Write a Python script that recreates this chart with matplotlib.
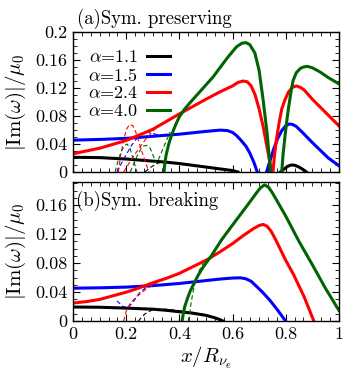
import matplotlib
matplotlib.use("Agg")
import matplotlib.pyplot as plt
from matplotlib.ticker import MultipleLocator

# ─────────────────────────────────────────────
# Data
# ─────────────────────────────────────────────
alphas = ["1.1", "1.5", "2.4", "4.0"]
colors = ["black", "#0000ff", "#ff0000", "#006400"]

# (a) symmetry preserving -- solid branches
a_black_x1 = [0, 0.1, 0.2, 0.25, 0.3, 0.35, 0.4, 0.45, 0.5, 0.55, 0.6, 0.62]
a_black_y1 = [0.021, 0.0205, 0.0185, 0.017, 0.0155, 0.014, 0.012, 0.0095, 0.007, 0.0045, 0.002, 0]
a_black_x2 = [0.78, 0.79, 0.80, 0.81, 0.822, 0.835, 0.85, 0.865, 0.878]
a_black_y2 = [0, 0.003, 0.006, 0.0085, 0.010, 0.0095, 0.007, 0.0035, 0]
a_blue_x1 = [0, 0.1, 0.2, 0.3, 0.4, 0.45, 0.5, 0.553, 0.58, 0.6, 0.615, 0.63, 0.65, 0.665, 0.68, 0.693]
a_blue_y1 = [0.0455, 0.0465, 0.048, 0.051, 0.054, 0.056, 0.058, 0.0598, 0.0592, 0.0565, 0.052, 0.046, 0.037, 0.027, 0.014, 0]
a_blue_x2 = [0.728, 0.74, 0.755, 0.77, 0.785, 0.8, 0.813, 0.825, 0.84, 0.865, 0.9, 0.93, 0.96, 1.0]
a_blue_y2 = [0, 0.015, 0.033, 0.048, 0.059, 0.066, 0.0686, 0.068, 0.065, 0.0557, 0.042, 0.031, 0.02, 0.009]
a_red_x1 = [0, 0.1, 0.2, 0.3, 0.4, 0.5, 0.55, 0.6, 0.62, 0.64, 0.655, 0.67, 0.685, 0.7, 0.715, 0.73, 0.74, 0.747]
a_red_y1 = [0.026, 0.034, 0.045, 0.061, 0.083, 0.104, 0.114, 0.123, 0.128, 0.13, 0.129, 0.123, 0.11, 0.09, 0.065, 0.035, 0.015, 0]
a_red_x2 = [0.752, 0.758, 0.765, 0.775, 0.785, 0.797, 0.81, 0.825, 0.84, 0.855, 0.87, 0.9, 0.95, 1.0]
a_red_y2 = [0, 0.025, 0.046, 0.07, 0.09, 0.103, 0.114, 0.121, 0.123, 0.121, 0.117, 0.104, 0.085, 0.066]
a_green_x1 = [0.342, 0.345, 0.35, 0.36, 0.37, 0.38, 0.39, 0.40, 0.42, 0.44, 0.48, 0.527, 0.58, 0.615,
              0.635, 0.65, 0.665, 0.684, 0.70, 0.715, 0.73, 0.743]
a_green_y1 = [0, 0.012, 0.024, 0.040, 0.052, 0.062, 0.071, 0.079, 0.09, 0.099, 0.116, 0.136, 0.163, 0.179,
              0.184, 0.185, 0.182, 0.17, 0.145, 0.103, 0.055, 0]
a_green_x2 = [0.785, 0.79, 0.797, 0.803, 0.81, 0.82, 0.828, 0.84, 0.855, 0.866, 0.88, 0.9, 0.929, 0.96, 1.0]
a_green_y2 = [0, 0.025, 0.05, 0.07, 0.09, 0.115, 0.131, 0.142, 0.148, 0.150, 0.151, 0.149, 0.143, 0.135, 0.126]

# (a) dashed branches
a_black_dx = [0.27, 0.29, 0.31, 0.33]
a_black_dy = [0, 0.006, 0.011, 0.014]
a_blue_dx = [0.165, 0.19, 0.22, 0.25, 0.28, 0.32]
a_blue_dy = [0, 0.018, 0.038, 0.053, 0.057, 0.053]
a_red_dx1 = [0.17, 0.18, 0.19, 0.2, 0.212, 0.225, 0.235, 0.25, 0.26, 0.275, 0.285]
a_red_dy1 = [0, 0.026, 0.045, 0.06, 0.068, 0.066, 0.058, 0.04, 0.028, 0.011, 0]
a_red_dx2 = [0.19, 0.22, 0.25, 0.28, 0.31]
a_red_dy2 = [0, 0.018, 0.035, 0.05, 0.062]
a_green_dx1 = [0.158, 0.17, 0.18, 0.192, 0.203, 0.214, 0.225, 0.24]
a_green_dy1 = [0, 0.017, 0.028, 0.037, 0.04, 0.034, 0.02, 0]
a_green_dx2 = [0.215, 0.24, 0.255, 0.265, 0.278, 0.29, 0.305, 0.315, 0.34, 0.365]
a_green_dy2 = [0, 0.022, 0.033, 0.037, 0.038, 0.034, 0.02, 0.012, 0.035, 0.057]

# (b) symmetry breaking -- solid
b_black_x = [0, 0.1, 0.2, 0.3, 0.35, 0.4, 0.45, 0.5, 0.53, 0.55, 0.565]
b_black_y = [0.0195, 0.0192, 0.018, 0.0165, 0.015, 0.013, 0.011, 0.008, 0.005, 0.0025, 0]
b_blue_x = [0, 0.1, 0.2, 0.3, 0.4, 0.5, 0.55, 0.6, 0.63, 0.65, 0.67, 0.69, 0.71, 0.74, 0.77, 0.8]
b_blue_y = [0.0455, 0.046, 0.047, 0.049, 0.052, 0.056, 0.058, 0.0595, 0.0598, 0.0585, 0.055, 0.048, 0.041,
            0.029, 0.015, 0]
b_red_x = [0, 0.05, 0.1, 0.15, 0.2, 0.25, 0.3, 0.35, 0.4, 0.45, 0.5, 0.55, 0.6, 0.64, 0.68, 0.7, 0.715,
           0.73, 0.745, 0.76, 0.78, 0.8, 0.83, 0.87, 0.906]
b_red_y = [0.025, 0.027, 0.03, 0.035, 0.04, 0.046, 0.053, 0.059, 0.066, 0.075, 0.084, 0.095, 0.107, 0.118,
           0.128, 0.132, 0.1335, 0.131, 0.124, 0.114, 0.099, 0.084, 0.064, 0.033, 0]
b_green_x = [0.41, 0.415, 0.42, 0.43, 0.44, 0.455, 0.47, 0.49, 0.52, 0.56, 0.615, 0.66, 0.69, 0.705,
             0.72, 0.735, 0.75, 0.8, 0.85, 0.9, 0.95, 1.0]
b_green_y = [0, 0.011, 0.02, 0.031, 0.041, 0.052, 0.063, 0.075, 0.09, 0.113, 0.14, 0.162, 0.177, 0.184,
             0.188, 0.185, 0.177, 0.145, 0.11, 0.078, 0.045, 0.015]

# (b) dashed
b_black_dx = [0.245, 0.27, 0.3, 0.35, 0.4, 0.45, 0.5, 0.54, 0.57]
b_black_dy = [0, 0.01, 0.016, 0.0165, 0.0145, 0.012, 0.009, 0.004, 0]
b_blue_dx = [0.165, 0.185, 0.205, 0.225, 0.25, 0.28, 0.31]
b_blue_dy = [0.028, 0.021, 0.018, 0.026, 0.039, 0.048, 0.05]
b_red_dx = [0.19, 0.2, 0.215, 0.24, 0.27, 0.3, 0.33]
b_red_dy = [0, 0.014, 0.025, 0.034, 0.043, 0.05, 0.056]
b_green_dx = [0.437, 0.442, 0.45, 0.46, 0.475, 0.49]
b_green_dy = [0, 0.02, 0.038, 0.055, 0.07, 0.08]

xticks = [0, 0.2, 0.4, 0.6, 0.8, 1.0]
xticklabels = ["0", "0.2", "0.4", "0.6", "0.8", "1"]
a_yticks = [0, 0.04, 0.08, 0.12, 0.16, 0.2]
a_yticklabels = ["0", "0.04", "0.08", "0.12", "0.16", "0.2"]
b_yticks = [0, 0.04, 0.08, 0.12, 0.16]
b_yticklabels = ["0", "0.04", "0.08", "0.12", "0.16"]

# ─────────────────────────────────────────────
# Style
# ─────────────────────────────────────────────
plt.rcParams["font.family"] = ["cmr10", "DejaVu Serif"]
plt.rcParams["mathtext.fontset"] = "cm"
plt.rcParams["axes.formatter.use_mathtext"] = True

LW = 2.2
DLW = 0.8
DASH = (0, (4, 2.5))
ylabel = r"$|\mathrm{Im}(\omega)|/\mu_0$"

fig = plt.figure(figsize=(3.53, 3.73), dpi=100)
ax_a = fig.add_axes([0.207, 0.539, 0.753, 0.375])
ax_b = fig.add_axes([0.207, 0.139, 0.753, 0.373])


def style_axes(ax, yticks, yticklabels, ymax):
    ax.set_xlim(0, 1)
    ax.set_ylim(0, ymax)
    ax.set_xticks(xticks)
    ax.set_yticks(yticks)
    ax.set_yticklabels(yticklabels)
    ax.xaxis.set_minor_locator(MultipleLocator(0.2 / 6))
    ax.yaxis.set_minor_locator(MultipleLocator(0.01))
    ax.tick_params(which="both", direction="in", top=True, right=True, labelsize=13, pad=4)
    ax.tick_params(which="major", length=5, width=0.8)
    ax.tick_params(which="minor", length=3, width=0.6)
    for s in ax.spines.values():
        s.set_linewidth(1.0)
    ax.set_ylabel(ylabel, fontsize=15, labelpad=5)


# ─────────────────────────────────────────────
# (a) Sym. preserving
# ─────────────────────────────────────────────
solids_a = [
    [(a_black_x1, a_black_y1), (a_black_x2, a_black_y2)],
    [(a_blue_x1, a_blue_y1), (a_blue_x2, a_blue_y2)],
    [(a_red_x1, a_red_y1), (a_red_x2, a_red_y2)],
    [(a_green_x1, a_green_y1), (a_green_x2, a_green_y2)],
]
dashed_a = [
    [(a_black_dx, a_black_dy)],
    [(a_blue_dx, a_blue_dy)],
    [(a_red_dx1, a_red_dy1), (a_red_dx2, a_red_dy2)],
    [(a_green_dx1, a_green_dy1), (a_green_dx2, a_green_dy2)],
]
for alpha, c, segs, dsegs in zip(alphas, colors, solids_a, dashed_a):
    for i, (xs, ys) in enumerate(segs):
        ax_a.plot(xs, ys, color=c, lw=LW, label=r"$\alpha$=" + alpha if i == 0 else None)
    for xs, ys in dsegs:
        ax_a.plot(xs, ys, color=c, lw=DLW, ls=DASH)

style_axes(ax_a, a_yticks, a_yticklabels, 0.2)
ax_a.set_xticklabels([])
ax_a.text(0.015, 1.06, "(a)Sym. preserving", transform=ax_a.transAxes,
          fontsize=13.5, va="baseline", ha="left")
ax_a.legend(loc="upper left", bbox_to_anchor=(0.055, 0.88), frameon=False,
            markerfirst=False, handlelength=1.3, handletextpad=0.5,
            labelspacing=0.1, borderpad=0, borderaxespad=0, fontsize=13)

# ─────────────────────────────────────────────
# (b) Sym. breaking
# ─────────────────────────────────────────────
solids_b = [(b_black_x, b_black_y), (b_blue_x, b_blue_y), (b_red_x, b_red_y), (b_green_x, b_green_y)]
dashed_b = [(b_black_dx, b_black_dy), (b_blue_dx, b_blue_dy), (b_red_dx, b_red_dy), (b_green_dx, b_green_dy)]
for c, (xs, ys), (dx, dy) in zip(colors, solids_b, dashed_b):
    ax_b.plot(xs, ys, color=c, lw=LW)
    ax_b.plot(dx, dy, color=c, lw=DLW, ls=DASH)

style_axes(ax_b, b_yticks, b_yticklabels, 0.192)
ax_b.set_xticklabels(xticklabels)
ax_b.set_xlabel(r"$x/R_{\nu_e}$", fontsize=15, labelpad=2)
ax_b.text(0.01, 0.83, "(b)Sym. breaking", transform=ax_b.transAxes,
          fontsize=13.5, va="baseline", ha="left")

fig.savefig("out.png", dpi=100)
